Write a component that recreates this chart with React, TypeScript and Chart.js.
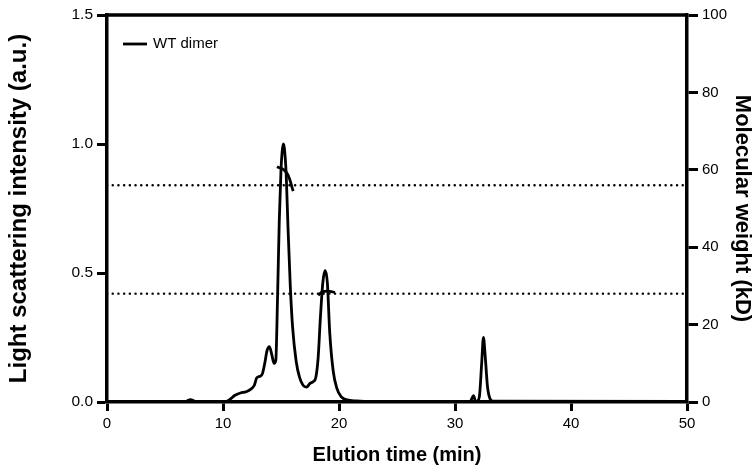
import React, { useEffect, useRef } from 'react';
import { Chart, registerables } from 'chart.js';

Chart.register(...registerables);

// Elution time (min) and light scattering intensity (a.u.)
const elutionTime = [
  0, 6.8, 7.0, 7.2, 7.4, 7.6, 10.2, 10.6, 11.0, 11.5, 12.0, 12.4, 12.7, 12.9, 13.2, 13.4,
  13.6, 13.8, 14.0, 14.2, 14.4, 14.55, 14.7, 14.85, 15.0, 15.1, 15.2, 15.3, 15.45, 15.6,
  15.8, 16.0, 16.3, 16.6, 16.9, 17.2, 17.5, 17.8, 18.0, 18.2, 18.4, 18.6, 18.8, 19.0, 19.2,
  19.5, 19.8, 20.2, 20.7, 21.5, 23.0, 31.3, 31.5, 31.6, 31.75, 31.9, 32.1, 32.3, 32.45,
  32.6, 32.8, 33.0, 33.3, 50,
];
const lightScattering = [
  0.002, 0.002, 0.007, 0.009, 0.007, 0.002, 0.001, 0.01, 0.025, 0.035, 0.04, 0.05, 0.065,
  0.093, 0.1, 0.11, 0.15, 0.2, 0.215, 0.185, 0.15, 0.16, 0.4, 0.7, 0.9, 0.97, 1.0, 0.98,
  0.88, 0.68, 0.45, 0.29, 0.16, 0.095, 0.065, 0.058, 0.072, 0.08, 0.095, 0.17, 0.33, 0.46,
  0.51, 0.46, 0.27, 0.12, 0.055, 0.02, 0.008, 0.004, 0.002, 0.002, 0.018, 0.025, 0.005,
  0.003, 0.02, 0.15, 0.25, 0.18, 0.06, 0.015, 0.003, 0.002,
];

// Molecular weight (kD) across the two peaks
const mwTimePeak1 = [14.65, 14.8, 15.2, 15.6, 16.05];
const mwPeak1 = [60.8, 60.6, 60.1, 58.7, 54.5];
const mwTimePeak2 = [18.2, 18.6, 19.2, 19.65];
const mwPeak2 = [27.6, 28.5, 28.6, 28.3];

// Theoretical reference molecular weights (kD)
const referenceMW = [28, 56];

const xLimits = [0, 50];
const yLimits = [0, 1.5];
const y2Limits = [0, 100];
const legendLabel = 'WT dimer';

const FONT = "'Liberation Sans', Arial, sans-serif";

export default function App() {
  const canvasRef = useRef<HTMLCanvasElement | null>(null);

  useEffect(() => {
    if (!canvasRef.current) return;

    const lsData = elutionTime.map((t, i) => ({ x: t, y: lightScattering[i] }));
    const mw1 = mwTimePeak1.map((t, i) => ({ x: t, y: mwPeak1[i] }));
    const mw2 = mwTimePeak2.map((t, i) => ({ x: t, y: mwPeak2[i] }));

    const refSets = referenceMW.map((v) => ({
      label: 'ref',
      data: [
        { x: xLimits[0], y: v },
        { x: xLimits[1], y: v },
      ],
      yAxisID: 'y2',
      borderColor: '#000',
      borderWidth: 2.4,
      borderDash: [0.1, 5.6],
      borderCapStyle: 'round' as const,
      pointRadius: 0,
      fill: false,
    }));

    const framePlugin = {
      id: 'frame',
      afterDraw(chart: any) {
        const { ctx, chartArea } = chart;
        ctx.save();
        ctx.strokeStyle = '#000';
        ctx.lineWidth = 3.5;
        ctx.beginPath();
        ctx.moveTo(chartArea.left, chartArea.top);
        ctx.lineTo(chartArea.right, chartArea.top);
        ctx.stroke();

        // legend
        const lx = chartArea.left + 16;
        const ly = chartArea.top + 29;
        ctx.lineWidth = 2.8;
        ctx.beginPath();
        ctx.moveTo(lx, ly);
        ctx.lineTo(lx + 24, ly);
        ctx.stroke();
        ctx.fillStyle = '#000';
        ctx.font = `15px ${FONT}`;
        ctx.textBaseline = 'middle';
        ctx.textAlign = 'left';
        ctx.fillText(chart.data.datasets[0].label, lx + 30, ly);
        ctx.restore();
      },
    };

    const chart = new Chart(canvasRef.current, {
      type: 'line',
      data: {
        datasets: [
          {
            label: legendLabel,
            data: lsData,
            yAxisID: 'y',
            borderColor: '#000',
            borderWidth: 2.8,
            pointRadius: 0,
            cubicInterpolationMode: 'monotone',
            fill: false,
          },
          {
            label: 'mw1',
            data: mw1,
            yAxisID: 'y2',
            borderColor: '#000',
            borderWidth: 2.8,
            pointRadius: 0,
            tension: 0.4,
            fill: false,
          },
          {
            label: 'mw2',
            data: mw2,
            yAxisID: 'y2',
            borderColor: '#000',
            borderWidth: 2.8,
            pointRadius: 0,
            tension: 0.4,
            fill: false,
          },
          ...refSets,
        ],
      },
      options: {
        responsive: false,
        animation: false,
        layout: { padding: { top: 15, left: 0, right: 0, bottom: 0 } },
        plugins: {
          legend: { display: false },
          tooltip: { enabled: false },
        },
        scales: {
          x: {
            type: 'linear',
            min: xLimits[0],
            max: xLimits[1],
            afterFit: (s: any) => {
              s.height = 74;
            },
            border: { display: true, color: '#000', width: 3.5 },
            grid: { drawOnChartArea: false, drawTicks: true, tickLength: 9, tickWidth: 3, tickColor: '#000' },
            ticks: { stepSize: 10, color: '#000', font: { family: FONT, size: 15 }, padding: 4, maxRotation: 0 },
            title: {
              display: true,
              text: 'Elution time (min)',
              color: '#000',
              font: { family: FONT, size: 20, weight: 'bold' },
              padding: { top: 0, bottom: 9 },
            },
          },
          y: {
            type: 'linear',
            position: 'left',
            min: yLimits[0],
            max: yLimits[1],
            afterFit: (s: any) => {
              s.width = 107;
            },
            border: { display: true, color: '#000', width: 3.5 },
            grid: { drawOnChartArea: false, drawTicks: true, tickLength: 10, tickWidth: 3, tickColor: '#000' },
            ticks: {
              stepSize: 0.5,
              color: '#000',
              font: { family: FONT, size: 15.5 },
              padding: 4,
              callback: (v: any) => Number(v).toFixed(1),
            },
            title: {
              display: true,
              text: 'Light scattering intensity (a.u.)',
              color: '#000',
              font: { family: FONT, size: 24, weight: 'bold' },
              padding: { top: 5, bottom: 0 },
            },
          },
          y2: {
            type: 'linear',
            position: 'right',
            min: y2Limits[0],
            max: y2Limits[1],
            afterFit: (s: any) => {
              s.width = 69;
            },
            border: { display: true, color: '#000', width: 3.5 },
            grid: { drawOnChartArea: false, drawTicks: true, tickLength: 11, tickWidth: 3, tickColor: '#000' },
            ticks: { stepSize: 20, color: '#000', font: { family: FONT, size: 15 }, padding: 4 },
            title: {
              display: true,
              text: 'Molecular weight (kD)',
              color: '#000',
              font: { family: FONT, size: 22, weight: 'bold' },
              padding: { top: 1, bottom: 0 },
            },
          },
        },
      } as any,
      plugins: [framePlugin],
    });

    return () => chart.destroy();
  }, []);

  return (
    <div style={{ position: 'fixed', left: 0, top: 0, width: 756, height: 476, background: '#fff' }}>
      <canvas ref={canvasRef} width={756} height={476} style={{ display: 'block' }} />
    </div>
  );
}
